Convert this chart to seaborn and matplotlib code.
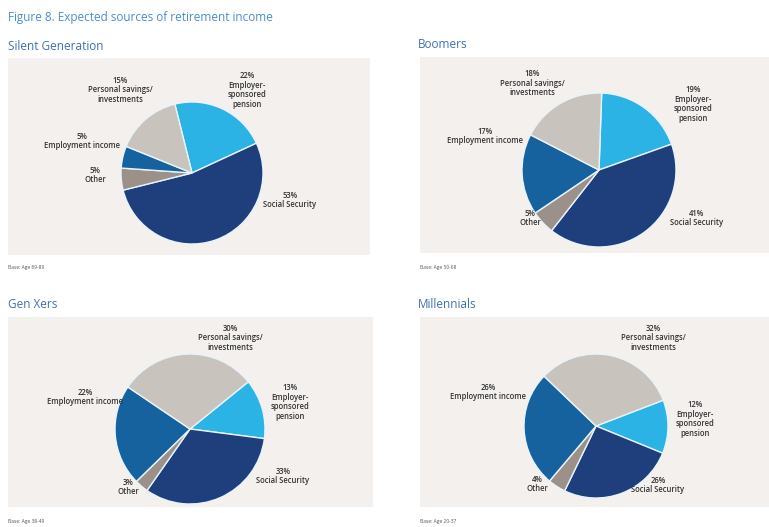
import numpy as np
import matplotlib
matplotlib.use("Agg")
import matplotlib.pyplot as plt
import seaborn as sns
from matplotlib.patches import Rectangle

################################
# data:
################################

sources = ["Employer-\nsponsored\npension", "Social Security", "Other",
           "Employment income", "Personal savings/\ninvestments"]

silent = [22, 53, 5, 5, 15]
boomers = [19, 41, 5, 17, 18]
genx = [13, 33, 3, 22, 30]
millennials = [12, 26, 4, 26, 32]

generations = ["Silent Generation", "Boomers", "Gen Xers", "Millennials"]
bases = ["Base: Age 69-89", "Base: Age 50-68", "Base: Age 38-49", "Base: Age 20-37"]

colors = ["#2cb3e6", "#1e3f7c", "#9b9189", "#16629f", "#c9c3bd"]

################################
# layout (figure pixels, y from top):
################################

W, H = 769, 527
panels = [(8, 58, 370, 255), (420, 57, 769, 253), (8, 317, 373, 507), (420, 317, 769, 507)]
titles_xy = [(8, 47), (418, 45), (8, 305), (418, 305)]
base_xy = [(8, 268), (420, 267), (8, 522), (420, 522)]
centers = [(192, 173), (599, 170), (190, 429), (596, 426)]
radii = [71, 77, 75, 72]
starts = [104, 88, 39, 21]
label_xy = [
    [(247, 90), (290, 200), (95, 175), (82, 141), (120, 90)],
    [(693, 104), (697, 218), (530, 218), (485, 136), (532, 83)],
    [(290, 402), (283, 476), (128, 487), (85, 397), (230, 338)],
    [(695, 419), (658, 485), (537, 484), (488, 392), (653, 338)],
]

################################
# plot:
################################

sns.set_theme(style="white")
plt.rcParams["font.family"] = ["Open Sans", "DejaVu Sans"]

fig = plt.figure(figsize=(W / 100, H / 100), dpi=100)
ax = fig.add_axes([0, 0, 1, 1])

fig.text(8 / W, 1 - 17 / H, "Figure 8. Expected sources of retirement income",
         color="#4a8dcc", fontsize=8.5, va="center", ha="left")

all_values = [silent, boomers, genx, millennials]

for i, vals in enumerate(all_values):
    x0, y0, x1, y1 = panels[i]
    ax.add_patch(Rectangle((x0, H - y1), x1 - x0, y1 - y0,
                           facecolor="#f4f0ee", edgecolor="none", zorder=0))
    tx, ty = titles_xy[i]
    ax.text(tx, H - ty, generations[i], color="#3d72ad", fontsize=8.5,
            ha="left", va="center")
    bx, by = base_xy[i]
    ax.text(bx, H - by, bases[i], color="#555555", fontsize=3.5,
            ha="left", va="center")

    cx, cy = centers[i]
    ax.pie(vals, colors=colors, startangle=starts[i], counterclock=False,
           center=(cx, H - cy), radius=radii[i], frame=True,
           wedgeprops=dict(edgecolor="#e8f4fb", linewidth=1.0))

    # slice labels: value on top, source name below
    for j, v in enumerate(vals):
        lx, ly = label_xy[i][j]
        ax.text(lx, H - ly, f"{v}%\n{sources[j]}", fontsize=5.5, color="#333333",
                ha="center", va="center", linespacing=1.05, fontweight="semibold")

ax.set_xlim(0, W)
ax.set_ylim(0, H)
ax.set_aspect("equal")
ax.axis("off")

fig.savefig("out.png", dpi=100, facecolor="white")
